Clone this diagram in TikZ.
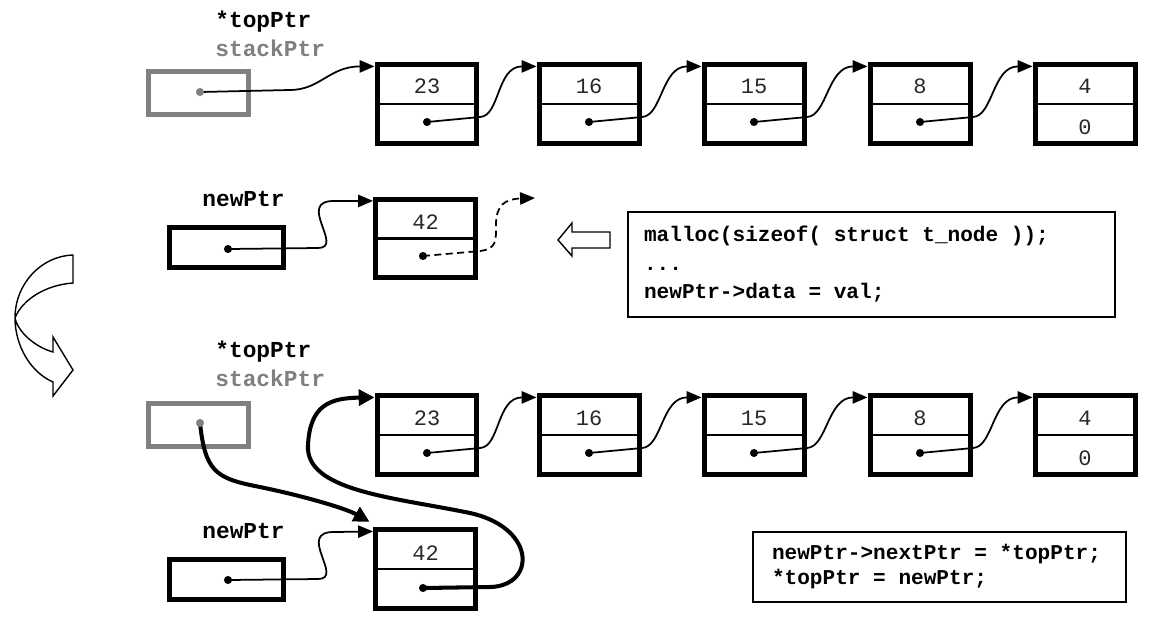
\documentclass[tikz,border=0pt]{standalone}
\usepackage{fontspec}
\setmonofont[WordSpace={1,0,0}]{Liberation Mono}
\usetikzlibrary{arrows.meta}
\definecolor{stackgray}{RGB}{128,128,128}
\definecolor{valgray}{RGB}{40,40,40}
\newcommand{\monospaces}{\spaceskip=0.6em\xspaceskip=0.6em\relax}
\tikzstyle{cell} = [rectangle, draw, line width=0.1cm, minimum width=2cm, minimum height=1.58cm]
\tikzstyle{varbox} = [rectangle, draw, line width=0.1cm, minimum width=2.28cm, minimum height=0.8cm]
\tikzstyle{stackbox} = [rectangle, draw=stackgray, line width=0.1cm, minimum width=2cm, minimum height=0.86cm]
\tikzstyle{divider} = [line width=1.4pt]
\tikzstyle{val} = [font=\ttfamily\fontsize{12.5}{15}\selectfont, text=valgray, inner sep=0pt]
\tikzstyle{varname} = [font=\ttfamily\bfseries\fontsize{13}{15}\selectfont, anchor=base west, inner sep=0pt]
\tikzstyle{link} = [line width=1pt, -{Triangle[length=8.5pt,width=7pt]}]
\tikzstyle{heavylink} = [line width=2.3pt, -{Triangle[length=9pt,width=9pt]}]
\tikzstyle{codebox} = [rectangle, draw, line width=0.9pt, align=left, inner xsep=0.32cm, font=\ttfamily\bfseries\fontsize{12}{16.2}\selectfont]
\tikzstyle{blockarrow} = [draw, fill=white, line width=0.8pt, line join=miter]

\begin{document}
\begin{tikzpicture}[x=0.02cm, y=-0.02cm]
\useasboundingbox (0,0) rectangle (1155,619);

% Stack before push
\node[varname] (top1) at (215,27) {*topPtr};
\node[varname, text=stackgray] (sp1) at (215,56) {stackPtr};
\node[stackbox] (st1) at (198.5,93) {};
\coordinate (ps1) at (200,92);

\node[cell] (n23a) at (427,104) {};
\node[cell] (n16a) at (589,104) {};
\node[cell] (n15a) at (754,104) {};
\node[cell] (n8a) at (920,104) {};
\node[cell] (n4a) at (1085,104) {};
\draw[divider] (n23a.west) -- (n23a.east);
\draw[divider] (n16a.west) -- (n16a.east);
\draw[divider] (n15a.west) -- (n15a.east);
\draw[divider] (n8a.west) -- (n8a.east);
\draw[divider] (n4a.west) -- (n4a.east);
\node[val] (v23a) at (427,86) {23};
\node[val] (v16a) at (589,86) {16};
\node[val] (v15a) at (754,86) {15};
\node[val] (v8a) at (920,86) {8};
\node[val] (v4a) at (1085,86) {4};
\node[val] (nulla) at (1085,127) {0};
\coordinate (p23a) at (427,122);
\coordinate (p16a) at (589,122);
\coordinate (p15a) at (754,122);
\coordinate (p8a) at (920,122);

\draw[link] (ps1) -- ++(90,-2) .. controls +(30,0) and +(-45,0) .. ([yshift=-2.5pt]n23a.north west);
\draw[link] (p23a) -- ++(53,-5) .. controls +(20,-1) and +(-40,0) .. ([yshift=-2.5pt]n16a.north west);
\draw[link] (p16a) -- ++(53,-5) .. controls +(20,-1) and +(-40,0) .. ([yshift=-2.5pt]n15a.north west);
\draw[link] (p15a) -- ++(53,-5) .. controls +(20,-1) and +(-40,0) .. ([yshift=-2.5pt]n8a.north west);
\draw[link] (p8a) -- ++(53,-5) .. controls +(20,-1) and +(-40,0) .. ([yshift=-2.5pt]n4a.north west);
\fill[stackgray] (ps1) circle (2.3pt);
\fill (p23a) circle (2.3pt);
\fill (p16a) circle (2.3pt);
\fill (p15a) circle (2.3pt);
\fill (p8a) circle (2.3pt);

% New node
\node[varname] (np1) at (202,206) {newPtr};
\node[varbox] (nv1) at (226.5,247.5) {};
\coordinate (pn1) at (228,249);
\node[cell] (n42a) at (425.5,238.5) {};
\draw[divider] (n42a.west) -- (n42a.east);
\node[val] (v42a) at (425.5,222) {42};
\coordinate (p42a) at (423,256);
\coordinate (loose) at (535,198);

\draw[link] (pn1) -- (318,248) .. controls (345,248) and (295,200) .. (335,201) -- ([yshift=-2.5pt]n42a.north west);
\draw[link, dashed, dash pattern=on 4pt off 2.5pt] (p42a) -- (480,251) .. controls (497,249) and (496,240) .. (496,225) .. controls (496,205) and (505,199) .. (loose);
\fill (pn1) circle (2.3pt);
\fill (p42a) circle (2.3pt);

% Code for the new node
\draw[blockarrow] (558,240) -- (572,223) -- (572,232) -- (610,232) -- (610,248) -- (572,248) -- (572,256) -- cycle;
\node[codebox, minimum width=9.74cm, minimum height=2.1cm, text width=9.1cm] (code1) at (871.5,264.5) {\monospaces malloc(sizeof( struct t\_node ));\\...\\newPtr->data = val;};

% Turn arrow
\draw[blockarrow] (73,255) .. controls (41,256) and (15,284) .. (15,318) .. controls (15,345) and (30,372) .. (53,382) -- (53,396) -- (73,370) -- (53,337) -- (53,352) .. controls (35,347) and (18,332) .. (15,318) .. controls (22,300) and (45,285) .. (73,283) -- cycle;

% Stack after push
\node[varname] (top2) at (215,357) {*topPtr};
\node[varname, text=stackgray] (sp2) at (215,386) {stackPtr};
\node[stackbox] (st2) at (198.5,424.5) {};
\coordinate (ps2) at (200,423);

\node[cell] (n23b) at (427,435) {};
\node[cell] (n16b) at (589,435) {};
\node[cell] (n15b) at (754,435) {};
\node[cell] (n8b) at (920,435) {};
\node[cell] (n4b) at (1085,435) {};
\draw[divider] (n23b.west) -- (n23b.east);
\draw[divider] (n16b.west) -- (n16b.east);
\draw[divider] (n15b.west) -- (n15b.east);
\draw[divider] (n8b.west) -- (n8b.east);
\draw[divider] (n4b.west) -- (n4b.east);
\node[val] (v23b) at (427,418) {23};
\node[val] (v16b) at (589,418) {16};
\node[val] (v15b) at (754,418) {15};
\node[val] (v8b) at (920,418) {8};
\node[val] (v4b) at (1085,418) {4};
\node[val] (nullb) at (1085,458) {0};
\coordinate (p23b) at (427,453);
\coordinate (p16b) at (589,453);
\coordinate (p15b) at (754,453);
\coordinate (p8b) at (920,453);

\draw[link] (p23b) -- ++(53,-5) .. controls +(20,-1) and +(-40,0) .. ([yshift=-2.5pt]n16b.north west);
\draw[link] (p16b) -- ++(53,-5) .. controls +(20,-1) and +(-40,0) .. ([yshift=-2.5pt]n15b.north west);
\draw[link] (p15b) -- ++(53,-5) .. controls +(20,-1) and +(-40,0) .. ([yshift=-2.5pt]n8b.north west);
\draw[link] (p8b) -- ++(53,-5) .. controls +(20,-1) and +(-40,0) .. ([yshift=-2.5pt]n4b.north west);

\node[varname] (np2) at (202,538) {newPtr};
\node[varbox] (nv2) at (226.5,579) {};
\coordinate (pn2) at (228,580);
\node[cell] (n42b) at (425.5,569) {};
\draw[divider] (n42b.west) -- (n42b.east);
\node[val] (v42b) at (425.5,553) {42};
\coordinate (p42b) at (423,588);

\draw[link] (pn2) -- (318,579) .. controls (345,579) and (295,531) .. (335,532) -- ([yshift=-2.5pt]n42b.north west);
\draw[heavylink] (ps2) .. controls (205,470) and (215,478) .. (255,486) .. controls (300,495) and (345,508) .. ([xshift=-2pt,yshift=3pt]n42b.north west);
\draw[heavylink] (p42b) -- (490,587) .. controls (537,586) and (537,525) .. (465,512) .. controls (390,497) and (305,490) .. (308,445) .. controls (310,405) and (330,398) .. ([yshift=-2.5pt]n23b.north west);
\fill[stackgray] (ps2) circle (2.3pt);
\fill (pn2) circle (2.3pt);
\fill (p42b) circle (2.3pt);
\fill (p23b) circle (2.3pt);
\fill (p16b) circle (2.3pt);
\fill (p15b) circle (2.3pt);
\fill (p8b) circle (2.3pt);

% Code for the push
\node[codebox, inner xsep=0.38cm, minimum width=7.46cm, minimum height=1.4cm, text width=6.7cm, font=\ttfamily\bfseries\fontsize{12}{14.2}\selectfont] (code2) at (939.5,567) {\monospaces newPtr->nextPtr = *topPtr;\\{}*topPtr = newPtr;};

\end{tikzpicture}
\end{document}
